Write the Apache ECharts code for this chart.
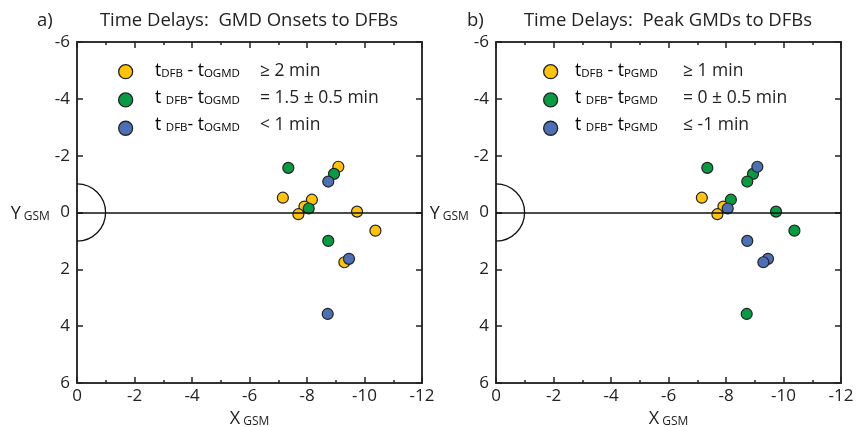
<!DOCTYPE html>
<html>
<head>
    <meta charset="utf-8">
    <title>Time Delays</title>
    <script src="https://cdn.jsdelivr.net/npm/echarts@6/dist/echarts.min.js"></script>
</head>
<body style="margin:0">
    <div id="chart" style="width: 857px;height:427px;"></div>
    <script type="text/javascript">
        // event positions (GSM, Re) - same events in both panels
        var xGsm = [-7.35, -9.09, -8.94, -8.74, -7.16, -8.17, -7.91, -8.06, -7.70, -9.74, -10.38, -8.74, -9.46, -9.30, -8.72];
        var yGsm = [-1.57, -1.61, -1.36, -1.09, -0.52, -0.45, -0.21, -0.14, 0.06, -0.03, 0.64, 1.00, 1.63, 1.75, 3.57];
        // delay class per event: 0 = yellow, 1 = green, 2 = blue
        var classOnset = [1, 0, 1, 2, 0, 0, 0, 1, 0, 0, 0, 1, 2, 0, 2];
        var classPeak  = [1, 2, 1, 1, 0, 1, 0, 2, 0, 1, 1, 2, 2, 2, 1];

        var xTicks = [0, -2, -4, -6, -8, -10, -12];
        var yTicks = [-6, -4, -2, 0, 2, 4, 6];

        var titles = ['Time Delays:  GMD Onsets to DFBs', 'Time Delays:  Peak GMDs to DFBs'];
        var panelTags = ['a)', 'b)'];
        var legendLabelsA = ['{t|t}{s|DFB}{t| - t}{s|OGMD}', '{t|t }{s|DFB}{t|- t}{s|OGMD}', '{t|t }{s|DFB}{t|- t}{s|OGMD}'];
        var legendLabelsB = ['{t|t}{s|DFB}{t| - t}{s|PGMD}', '{t|t }{s|DFB}{t|- t}{s|PGMD}', '{t|t }{s|DFB}{t|- t}{s|PGMD}'];
        var legendValuesA = ['\u2265 2 min', '= 1.5 \u00b1 0.5 min', '< 1 min'];
        var legendValuesB = ['\u2265 1 min', '= 0 \u00b1 0.5 min', '\u2264 -1 min'];

        var colors = ['#FFC20E', '#0B9A44', '#4D70B5'];
        var FONT = 'Open Sans';

        var chart = echarts.init(document.getElementById('chart'));

        var grids = [
            {left: 77, right: 435, top: 42, bottom: 44, outerBoundsMode: 'none'},
            {left: 496, right: 16, top: 42, bottom: 44, outerBoundsMode: 'none'}
        ];

        var rich = {
            t: {fontFamily: FONT, fontSize: 17.5, lineHeight: 18, verticalAlign: 'bottom', color: '#222'},
            s: {fontFamily: FONT, fontSize: 11.5, lineHeight: 8, verticalAlign: 'bottom', color: '#222'}
        };
        var nameRich = {
            t: {fontFamily: FONT, fontSize: 18, lineHeight: 20, verticalAlign: 'bottom', color: '#222'},
            s: {fontFamily: FONT, fontSize: 12, lineHeight: 8, verticalAlign: 'bottom', color: '#222'}
        };

        var xAxes = [], yAxes = [], series = [], legends = [], graphics = [];

        function baseX(g, pos, labels) {
            return {
                gridIndex: g, type: 'value', position: pos, min: -12, max: 0, interval: 2, inverse: true,
                axisLine: {show: true, onZero: false, lineStyle: {color: '#333', width: 2}},
                axisTick: {show: true, inside: true, length: 6, lineStyle: {color: '#222', width: 1.5}},
                minorTick: {show: true, splitNumber: 2, length: 3, lineStyle: {color: '#222', width: 1.5}},
                splitLine: {show: false},
                axisLabel: {show: labels, fontFamily: FONT, fontSize: 17, color: '#222', margin: 5},
                name: labels ? '{t|X}{s| GSM}' : '',
                nameLocation: 'middle', nameGap: 24,
                nameTextStyle: {rich: nameRich}
            };
        }
        function baseY(g, pos, labels) {
            return {
                gridIndex: g, type: 'value', position: pos, min: -6, max: 6, interval: 2, inverse: true,
                axisLine: {show: true, onZero: false, lineStyle: {color: '#333', width: 2}},
                axisTick: {show: true, inside: true, length: 6, lineStyle: {color: '#222', width: 1.5}},
                splitLine: {show: false},
                axisLabel: {show: labels, fontFamily: FONT, fontSize: 17, color: '#222', margin: 7},
                name: labels ? '{t|Y}{s| GSM}' : '',
                nameLocation: 'middle', nameGap: 26, nameRotate: 0,
                nameTextStyle: {rich: nameRich}
            };
        }

        var classes = [classOnset, classPeak];
        var labelSets = [legendLabelsA, legendLabelsB];
        var valueSets = [legendValuesA, legendValuesB];
        var legendLeft = [118, 543];
        var labelX = [155, 575];
        var valueX = [260, 683];
        var rowY = [71, 98, 125];
        var titleX = [249, 668];
        var tagX = [37, 467];

        for (var g = 0; g < 2; g++) {
            xAxes.push(baseX(g, 'bottom', true));
            xAxes.push(baseX(g, 'top', false));
            yAxes.push(baseY(g, 'left', true));
            yAxes.push(baseY(g, 'right', false));
            var xi = g * 2, yi = g * 2;

            // earth (half circle) + y = 0 line
            series.push({
                type: 'custom', xAxisIndex: xi, yAxisIndex: yi, z: 1,
                data: [[0, 0]],
                renderItem: function (params, api) {
                    var c = api.coord([0, 0]);
                    var r = api.size([1, 1]);
                    return {
                        type: 'arc',
                        shape: {cx: c[0], cy: c[1], r: (r[0] + r[1]) / 2, startAngle: -Math.PI / 2, endAngle: Math.PI / 2},
                        style: {stroke: '#111', fill: null, lineWidth: 1.3}
                    };
                },
                markLine: {
                    silent: true, symbol: 'none', animation: false,
                    label: {show: false},
                    lineStyle: {color: '#111', width: 1.5, type: 'solid'},
                    data: [{yAxis: 0}]
                }
            });

            var names = [];
            for (var c = 0; c < 3; c++) {
                var pts = [];
                for (var i = 0; i < xGsm.length; i++) {
                    if (classes[g][i] === c) pts.push([xGsm[i], yGsm[i]]);
                }
                var nm = 'p' + g + '_' + c;
                names.push(nm);
                series.push({
                    name: nm, type: 'scatter', xAxisIndex: xi, yAxisIndex: yi, z: 3,
                    symbolSize: 11,
                    itemStyle: {color: colors[c], borderColor: '#222', borderWidth: 1.2, opacity: 1},
                    data: pts
                });
            }

            legends.push({
                data: names, orient: 'vertical', left: legendLeft[g], top: 64, padding: 0,
                icon: 'circle', itemWidth: 14, itemHeight: 14, itemGap: 13,
                selectedMode: false,
                itemStyle: {borderColor: '#222', borderWidth: 1.3},
                formatter: function () { return ''; },
                textStyle: {fontSize: 10, lineHeight: 14}
            });

            for (var k = 0; k < 3; k++) {
                graphics.push({
                    type: 'text', x: labelX[g], y: rowY[k],
                    style: {text: labelSets[g][k], rich: rich, verticalAlign: 'middle', align: 'left'}
                });
                graphics.push({
                    type: 'text', x: valueX[g], y: rowY[k],
                    style: {text: valueSets[g][k], fontFamily: FONT, fontSize: 17.5, fill: '#222', verticalAlign: 'middle', align: 'left'}
                });
            }
            graphics.push({
                type: 'text', x: titleX[g], y: 21,
                style: {text: titles[g], fontFamily: FONT, fontSize: 18.5, fill: '#222', align: 'center', verticalAlign: 'middle'}
            });
            graphics.push({
                type: 'text', x: tagX[g], y: 21,
                style: {text: panelTags[g], fontFamily: FONT, fontSize: 18.5, fill: '#222', align: 'left', verticalAlign: 'middle'}
            });
        }

        var option = {
            animation: false,
            backgroundColor: '#fff',
            grid: grids,
            xAxis: xAxes,
            yAxis: yAxes,
            legend: legends,
            graphic: graphics,
            series: series
        };
        chart.setOption(option);
    </script>
</body>
</html>
